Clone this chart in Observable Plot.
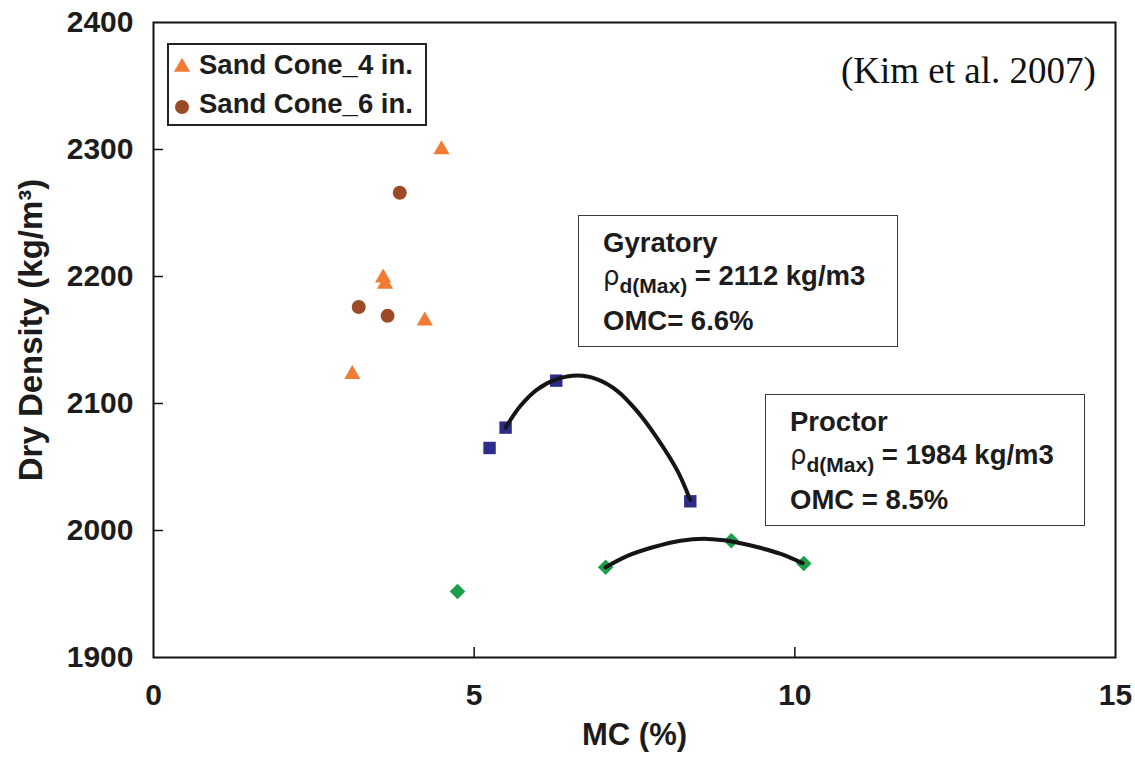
<!DOCTYPE html>
<html><head><meta charset="utf-8">
<script src="https://cdn.jsdelivr.net/npm/d3@7"></script>
<script src="https://cdn.jsdelivr.net/npm/@observablehq/plot@0.6"></script>
<style>
html,body{margin:0;padding:0;background:#fff;}
#wrap{position:relative;width:1135px;height:762px;font-family:"Liberation Sans",Arial,sans-serif;color:#1c1c1c;overflow:hidden;}
#wrap svg.plot{position:absolute;left:0;top:0;}
.box{position:absolute;border:1.5px solid #3a3a3a;background:#fff;box-sizing:border-box;}
.ln{position:absolute;white-space:nowrap;font-weight:bold;font-size:27.5px;line-height:27px;}
.rho{font-weight:normal;font-family:"DejaVu Sans","Liberation Sans",sans-serif;font-size:26px;}
.sub{font-size:21px;position:relative;top:8px;}
.leg{position:absolute;white-space:nowrap;font-weight:bold;font-size:27.5px;line-height:26px;}
.cite{position:absolute;white-space:nowrap;font-family:"Liberation Serif","Times New Roman",serif;font-size:37px;line-height:37px;color:#111;}
</style></head><body><div id="wrap"></div>
<script>
// ---- axis ticks ----
const xTicks = [0, 5, 10, 15];
const yTicks = [1900, 2000, 2100, 2200, 2300, 2400];

// ---- series names & colours ----
const seriesNames = ["Sand Cone_4 in.", "Sand Cone_6 in.", "Gyratory", "Proctor"];
const seriesColors = ["#EF7B34", "#9C4A27", "#2D2C88", "#1F9E4A"];

// ---- scatter data: MC (%) and dry density (kg/m3) ----
const sc4MC = [4.49, 3.58, 3.61, 4.23, 3.10];
const sc4DD = [2300, 2199, 2194, 2165, 2123];
const sc6MC = [3.84, 3.20, 3.65];
const sc6DD = [2266, 2176, 2169];
const gyrMC = [5.24, 5.49, 6.28, 8.37];
const gyrDD = [2065, 2081, 2118, 2023];
const procMC = [4.74, 7.05, 9.01, 10.14];
const procDD = [1952, 1971, 1992, 1974];

// ---- fitted compaction curves ----
const gyrFitMC = [5.49, 5.72, 5.98, 6.28, 6.61, 6.92, 7.23, 7.54, 7.85, 8.17, 8.37];
const gyrFitDD = [2081, 2098, 2111, 2119, 2122, 2119, 2110, 2094, 2073, 2047, 2024];
const procFitMC = [7.05, 7.39, 7.80, 8.22, 8.63, 9.00, 9.41, 9.78, 10.12];
const procFitDD = [1971, 1980, 1987, 1992, 1993.4, 1991.6, 1987, 1981.6, 1974.3];

// ---- annotation values ----
const gyrMax = 2112, gyrOMC = 6.6;
const procMax = 1984, procOMC = 8.5;
const citation = "(Kim et al. 2007)";
const xTitle = "MC (%)";
const yTitle = "Dry Density (kg/m³)";

const toRows = (xs, ys) => xs.map((x, i) => ({x, y: ys[i]}));
const sc4 = toRows(sc4MC, sc4DD);
const sc6 = toRows(sc6MC, sc6DD);
const gyr = toRows(gyrMC, gyrDD);
const proc = toRows(procMC, procDD);
const gyrFit = toRows(gyrFitMC, gyrFitDD);
const procFit = toRows(procFitMC, procFitDD);

const W = 1135, H = 762;
const chart = Plot.plot({
  width: W, height: H,
  marginLeft: 153, marginRight: 20, marginTop: 22, marginBottom: 105,
  className: "plot",
  style: {fontFamily: '"Liberation Sans", Arial, sans-serif', background: "transparent", overflow: "visible", color: "#1c1c1c"},
  x: {domain: [xTicks[0], xTicks[xTicks.length - 1]], label: null},
  y: {domain: [yTicks[0], yTicks[yTicks.length - 1]], label: null},
  marks: [
    Plot.tickY(yTicks.slice(1, -1), {y: d => d, stroke: "#111", strokeWidth: 1.5, insetRight: 952}),
    Plot.tickX(xTicks.slice(1, -1), {x: d => d, stroke: "#111", strokeWidth: 1.5, insetTop: 625}),
    Plot.axisY({ticks: yTicks, tickFormat: d => String(d), tickSize: 0, tickPadding: 20, fontSize: 30, fontWeight: "bold", label: null}),
    Plot.axisX({ticks: xTicks, tickFormat: d => String(d), tickSize: 0, tickPadding: 26, fontSize: 30, fontWeight: "bold", label: null}),
    Plot.text([yTitle], {text: d => d, frameAnchor: "left", textAnchor: "middle", rotate: -90, dx: -122, dy: -10, fontSize: 33, fontWeight: "bold", fill: "#1c1c1c"}),
    Plot.text([xTitle], {text: d => d, frameAnchor: "bottom", dy: 87, fontSize: 31, fontWeight: "bold", fill: "#1c1c1c"}),
    Plot.dot(sc4, {x: "x", y: "y", symbol: "triangle", r: 6, fill: seriesColors[0], stroke: "none"}),
    Plot.dot(sc6, {x: "x", y: "y", symbol: "circle", r: 7, fill: seriesColors[1], stroke: "none"}),
    Plot.dot(gyr, {x: "x", y: "y", symbol: "square", r: 7, fill: seriesColors[2], stroke: "none"}),
    Plot.dot(proc, {x: "x", y: "y", symbol: "diamond2", r: 7, fill: seriesColors[3], stroke: "none"}),
    Plot.line(gyrFit, {x: "x", y: "y", curve: "catmull-rom", stroke: "#151515", strokeWidth: 4}),
    Plot.line(procFit, {x: "x", y: "y", curve: "catmull-rom", stroke: "#151515", strokeWidth: 4}),
    Plot.frame({stroke: "#111", strokeWidth: 2})
  ]
});
const wrap = document.getElementById("wrap");
wrap.appendChild(chart);

// ---- legend (inside plot, top-left) ----
const legend = document.createElement("div");
legend.className = "box";
legend.style.cssText = "left:167px;top:43px;width:260px;height:83px;border:2px solid #222;";
wrap.appendChild(legend);
function swatch(kind, color, cx, cy) {
  const ns = "http://www.w3.org/2000/svg";
  const s = document.createElementNS(ns, "svg");
  s.setAttribute("width", 20); s.setAttribute("height", 20);
  s.style.cssText = `position:absolute;left:${cx - 10}px;top:${cy - 10}px;`;
  const p = document.createElementNS(ns, "path");
  p.setAttribute("transform", "translate(10,10)");
  p.setAttribute("d", d3.symbol(kind === "triangle" ? d3.symbolTriangle : d3.symbolCircle, kind === "triangle" ? 113 : 154)());
  p.setAttribute("fill", color);
  s.appendChild(p);
  wrap.appendChild(s);
}
swatch("triangle", seriesColors[0], 182, 67);
swatch("circle", seriesColors[1], 182, 107);
[[seriesNames[0], 52], [seriesNames[1], 91]].forEach(([t, top]) => {
  const d = document.createElement("div");
  d.className = "leg"; d.textContent = t;
  d.style.left = "199px"; d.style.top = top + "px";
  wrap.appendChild(d);
});

// ---- annotation boxes ----
function annBox(left, top, name, max, omc, omcSep) {
  const b = document.createElement("div");
  b.className = "box";
  b.style.cssText = `left:${left}px;top:${top}px;width:320px;height:132px;`;
  wrap.appendChild(b);
  const lines = [
    name,
    `<span class="rho">ρ</span><span class="sub">d(Max)</span> = ${max} kg/m3`,
    `OMC${omcSep}= ${omc}%`
  ];
  const tops = [14, 47, 92];
  lines.forEach((h, i) => {
    const d = document.createElement("div");
    d.className = "ln"; d.innerHTML = h;
    d.style.left = (left + 25) + "px"; d.style.top = (top + tops[i]) + "px";
    wrap.appendChild(d);
  });
}
annBox(578, 215, seriesNames[2], gyrMax, gyrOMC, "");
annBox(765, 394, seriesNames[3], procMax, procOMC, " ");

// ---- citation ----
const c = document.createElement("div");
c.className = "cite"; c.textContent = citation;
c.style.left = "841px"; c.style.top = "52px";
wrap.appendChild(c);
</script>
</body></html>
